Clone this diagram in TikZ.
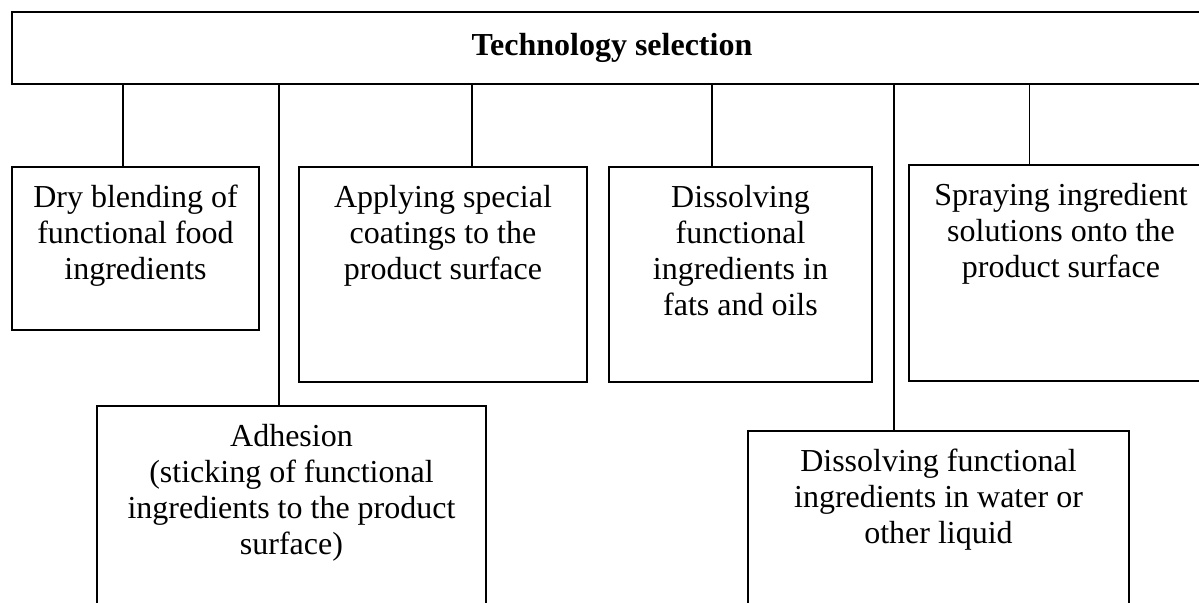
\documentclass[tikz,border=0pt]{standalone}
\usepackage{fontspec}
\setmainfont{Liberation Serif}
\usetikzlibrary{positioning}
\tikzset{
  box/.style={rectangle, draw, line width=1pt, anchor=north west, inner sep=0pt},
  boxtext/.style={anchor=north, yshift=-7.9pt, inner sep=0pt, align=center, font=\fontsize{16pt}{18pt}\selectfont},
  line/.style={draw, line width=0.8pt}
}

\begin{document}
\begin{tikzpicture}[x=0.5pt, y=-0.5pt]
    \useasboundingbox (0,0) rectangle (1199,602);
    \clip (0,0) rectangle (1199,602);
    % Nodes
    \node [box, minimum width=600pt, minimum height=36pt, font=\fontsize{16pt}{18pt}\selectfont\bfseries] (title) at (11,11) {Technology selection};
    \node [box, minimum width=123.5pt, minimum height=81.5pt, label={[boxtext]north:{\strut Dry blending of\\functional food\\ingredients}}] (dry) at (11,166) {};
    \node [box, minimum width=144pt, minimum height=107.5pt, label={[boxtext]north:{\strut Applying special\\coatings to the\\product surface}}] (coat) at (298,166) {};
    \node [box, minimum width=131.5pt, minimum height=107.5pt, label={[boxtext]north:{\strut Dissolving\\functional\\ingredients in\\fats and oils}}] (fats) at (608,166) {};
    \node [box, minimum width=152pt, minimum height=108pt, label={[boxtext]north:{\strut Spraying ingredient\\solutions onto the\\product surface}}] (spray) at (908,164) {};
    \node [box, minimum width=194.5pt, minimum height=110pt, label={[boxtext]north:{\strut Adhesion\\(sticking of functional\\ingredients to the product\\surface)}}] (adh) at (96,405) {};
    \node [box, minimum width=190.5pt, minimum height=100pt, label={[boxtext]north:{\strut Dissolving functional\\ingredients in water or\\other liquid}}] (water) at (747,430) {};

    % Edges
    \path [line] ([xshift=-6.25pt]dry.north) -- ([xshift=-6.25pt]dry.north |- title.south);
    \path [line] ([xshift=-6.25pt]adh.north) -- ([xshift=-6.25pt]adh.north |- title.south);
    \path [line] ([xshift=14.5pt]coat.north) -- ([xshift=14.5pt]coat.north |- title.south);
    \path [line] ([xshift=-14.25pt]fats.north) -- ([xshift=-14.25pt]fats.north |- title.south);
    \path [line] ([xshift=-22.25pt]water.north) -- ([xshift=-22.25pt]water.north |- title.south);
    \path [line] ([xshift=-15.75pt]spray.north) -- ([xshift=-15.75pt]spray.north |- title.south);
\end{tikzpicture}
\end{document}
